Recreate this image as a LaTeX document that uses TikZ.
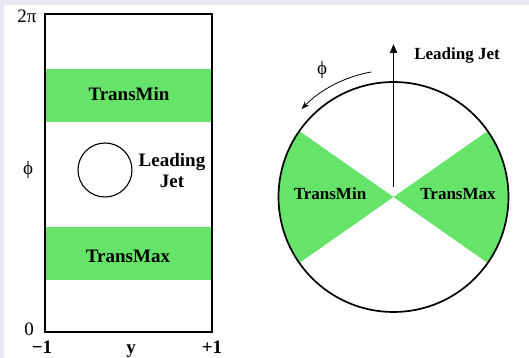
\documentclass[tikz,border=0pt]{standalone}
\usepackage{fontspec}
\setmainfont{Liberation Serif}
\usetikzlibrary{arrows.meta,calc}
\definecolor{lav}{RGB}{232,232,243}
\definecolor{jetgreen}{RGB}{102,228,106}
\tikzset{
  big/.style={font=\fontsize{19}{22}\selectfont\bfseries},
  mid/.style={font=\fontsize{17}{19}\selectfont\bfseries},
  axis/.style={font=\fontsize{19}{22}\selectfont},
  band/.style={fill=jetgreen, draw=none},
}
\begin{document}
\begin{tikzpicture}[x=1pt,y=1pt]
\useasboundingbox (0,0) rectangle (529,358);
\fill[lav] (0,0) rectangle (529,358);
\fill[white] (4,0) rectangle (529,353);
% left panel
\fill[band] (45,236) rectangle (212,289);
\fill[band] (45,78) rectangle (212,131);
\node[draw, line width=1.4pt, minimum width=167pt, minimum height=318pt, inner sep=0pt] (box) at (128.5,185) {};
\node[draw, circle, line width=1.1pt, minimum size=54pt, inner sep=0pt] (jetc) at (105,188) {};
\node[big] (tmin) at (129,264) {TransMin};
\node[big] (tmax) at (128,102) {TransMax};
\node[big, align=center, inner sep=0pt, font=\fontsize{19}{21}\selectfont\bfseries] (ljl) at (172,187) {Leading\\Jet};
\node[axis, anchor=base] (twopi) at (27,335) {2π};
\node[axis] (phil) at (28,188) {ϕ};
\node[axis, anchor=base] (zero) at (29,22) {0};
\node[big, anchor=base, inner sep=0pt] (m1) at (42,5) {−1};
\node[big, anchor=base, inner sep=0pt] (yl) at (131,5) {y};
\node[big, anchor=base, inner sep=0pt] (p1) at (212,5) {+1};
% right panel
\coordinate (c) at (393.5,161);
\fill[jetgreen] (c) -- ++(-35:115) arc[start angle=-35, end angle=35, radius=115] -- cycle;
\fill[jetgreen] (c) -- ++(145:115) arc[start angle=145, end angle=215, radius=115] -- cycle;
\node[draw, circle, line width=1.7pt, minimum size=230pt, inner sep=0pt] (ring) at (c) {};
\coordinate (jetbase) at (393.5,171);
\coordinate (jettip) at (393.5,314);
\draw[line width=1.8pt, -{Triangle[length=9pt,width=7pt]}] (jetbase) -- (jettip);
\node[mid] (ljr) at (457,303) {Leading Jet};
\node[mid] (rmin) at (330,164) {TransMin};
\node[mid] (rmax) at (458,164) {TransMax};
\node[axis] (phir) at (322,288) {ϕ};
\coordinate (arcstart) at ($(c)+(100:127)$);
\draw[line width=0.8pt, -{Stealth[length=8pt,width=6pt]}] (arcstart) arc[start angle=100, end angle=136, radius=128];
\end{tikzpicture}
\end{document}
